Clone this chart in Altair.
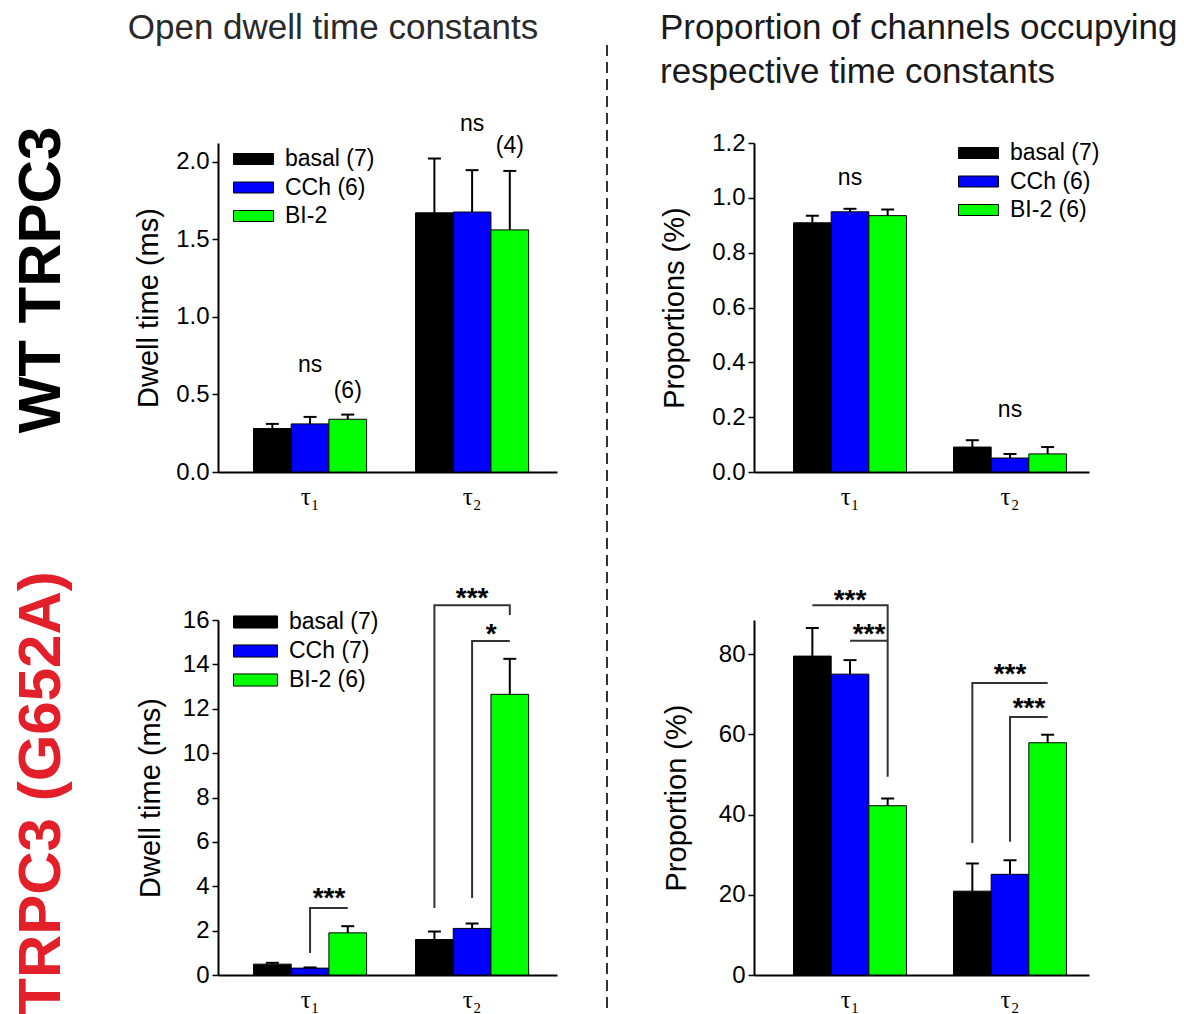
import altair as alt
import pandas as pd

# ---------------- data ----------------
categories = ["τ₁", "τ₂"]
groups = ["basal", "CCh", "BI-2"]
colors = ["#000000", "#0000ff", "#00ff00"]

# values ordered as (τ1: basal, CCh, BI-2), (τ2: basal, CCh, BI-2)
wt_dwell_mean = [0.28, 0.31, 0.34, 1.67, 1.675, 1.56]
wt_dwell_sem = [0.03, 0.045, 0.03, 0.35, 0.27, 0.38]
wt_dwell_legend = ["basal (7)", "CCh (6)", "BI-2"]

wt_prop_mean = [0.909, 0.949, 0.935, 0.091, 0.051, 0.066]
wt_prop_sem = [0.026, 0.011, 0.022, 0.025, 0.015, 0.025]
wt_prop_legend = ["basal (7)", "CCh (6)", "BI-2 (6)"]

mut_dwell_mean = [0.49, 0.31, 1.9, 1.6, 2.1, 12.65]
mut_dwell_sem = [0.06, 0.03, 0.3, 0.36, 0.22, 1.6]
mut_dwell_legend = ["basal (7)", "CCh (7)", "BI-2 (6)"]

mut_prop_mean = [79.5, 75.0, 42.2, 20.9, 25.1, 57.9]
mut_prop_sem = [7.0, 3.5, 1.8, 6.9, 3.5, 2.0]
mut_prop_legend = ["basal (7)", "CCh (7)", "BI-2 (6)"]

# annotations: (category, group, y, text); "mid" ones sit between group and the next group
wt_dwell_notes = [("τ₁", "CCh", 0.69, "ns"), ("τ₁", "BI-2", 0.52, "(6)"),
                  ("τ₂", "CCh", 2.24, "ns"), ("τ₂", "BI-2", 2.10, "(4)")]
wt_prop_notes = [("τ₁", "CCh", 1.072, "ns"), ("τ₂", "CCh", 0.226, "ns")]
mut_dwell_stars = [("τ₂", "CCh", 17.2, "***")]
mut_dwell_mid = [("τ₁", "CCh", 3.7, "***"), ("τ₂", "CCh", 15.6, "*")]
mut_prop_stars = [("τ₁", "CCh", 94.7, "***"), ("τ₂", "CCh", 76.2, "***")]
mut_prop_mid = [("τ₁", "CCh", 86.2, "***"), ("τ₂", "CCh", 67.8, "***")]

# significance brackets: (bracket id, category, [(group, y), ...])
mut_dwell_brackets = [
    ("a", "τ₁", [("CCh", 0.99), ("CCh", 3.02), ("BI-2", 3.02)]),
    ("b", "τ₂", [("basal", 3.02), ("basal", 16.67), ("BI-2", 16.67), ("BI-2", 16.22)]),
    ("c", "τ₂", [("CCh", 3.47), ("CCh", 15.05), ("BI-2", 15.05)]),
]
mut_prop_brackets = [
    ("a", "τ₁", [("basal", 92.2), ("BI-2", 92.2), ("BI-2", 49.4)]),
    ("b", "τ₁", [("CCh", 83.3), ("BI-2", 83.3)]),
    ("c", "τ₂", [("basal", 32.9), ("basal", 72.8), ("BI-2", 72.8)]),
    ("d", "τ₂", [("CCh", 33.2), ("CCh", 64.3), ("BI-2", 64.3)]),
]

col_titles = ["Open dwell time constants", "Proportion of channels occupying\nrespective time constants"]
row_titles = ["WT TRPC3", "TRPC3 (G652A)"]

SANS = "Liberation Sans"
SERIF = "Liberation Serif, DejaVu Serif, serif"
LEFT_W, RIGHT_W = 339, 335
TOP_H, BOT_H = 329, 355
COL_GAP, ROW_GAP = 197, 148


def bar_table(mean, sem, labels):
    rows = []
    k = 0
    for c in categories:
        for g, lab in zip(groups, labels):
            rows.append(dict(cat=c, grp=g, label=lab, mean=mean[k], top=mean[k] + sem[k]))
            k += 1
    return pd.DataFrame(rows)


def note_table(notes):
    return pd.DataFrame([dict(cat=c, grp=g, y=v, t=t) for c, g, v, t in notes])


def bracket_table(brackets):
    rows = []
    for bid, c, pts in brackets:
        for i, (g, v) in enumerate(pts):
            rows.append(dict(bid=bid, cat=c, grp=g, y=v, seq=i))
    return pd.DataFrame(rows)


def panel(mean, sem, labels, width, height, ydom, yticks, yfmt, ytitle, title_x,
          band, legend=None, notes=None, stars=None, mids=None, brackets=None, extras=()):
    pi, po, al = band
    df = bar_table(mean, sem, labels)
    X = alt.X("cat:N", sort=categories,
              scale=alt.Scale(domain=categories, paddingInner=pi, paddingOuter=po, align=al),
              axis=alt.Axis(title=None, labelAngle=0, ticks=False, labelFont=SERIF,
                            labelFontSize=25, labelColor="black", labelPadding=12,
                            domainColor="black", domainWidth=2))
    XO = alt.XOffset("grp:N", sort=groups,
                     scale=alt.Scale(domain=groups, paddingInner=0, paddingOuter=0))

    def Y(field):
        return alt.Y(field, title=ytitle,
                     scale=alt.Scale(domain=ydom, nice=False, zero=True),
                     axis=alt.Axis(values=yticks, format=yfmt, grid=False,
                                   titleFont=SANS, titleFontSize=29, titleFontWeight="normal",
                                   titleColor="black", titleX=title_x, titleY=height / 2,
                                   titleAngle=270, titleAlign="center", titleBaseline="middle",
                                   labelFont=SANS, labelFontSize=24, labelColor="black",
                                   labelPadding=3, tickSize=6, tickColor="black", tickWidth=1.5,
                                   domainColor="black", domainWidth=2))

    if legend is None:
        leg = None
    else:
        lx, ly, sym, rowpad = legend
        leg = alt.Legend(title=None, orient="none", legendX=lx, legendY=ly,
                         symbolType="M-1,-0.275L1,-0.275L1,0.275L-1,0.275Z",
                         symbolSize=sym * sym, symbolStrokeColor="black", symbolStrokeWidth=1,
                         symbolOpacity=1, labelFont=SANS, labelFontSize=23, labelColor="black",
                         labelOffset=11, rowPadding=rowpad, clipHeight=23, padding=0)

    bars = alt.Chart(df).mark_bar(stroke="black", strokeWidth=1, opacity=1).encode(
        x=X, xOffset=XO, y=Y("mean:Q"),
        color=alt.Color("label:N", sort=labels,
                        scale=alt.Scale(domain=labels, range=colors), legend=leg))
    err = alt.Chart(df).mark_rule(color="black", strokeWidth=2).encode(
        x=X, xOffset=XO, y=Y("mean:Q"), y2="top:Q")
    cap = alt.Chart(df).mark_tick(color="black", thickness=2, size=13, opacity=1).encode(
        x=X, xOffset=XO, y=Y("top:Q"))
    layers = [bars, err, cap]
    if brackets:
        layers.append(alt.Chart(bracket_table(brackets)).mark_line(
            color="#333333", strokeWidth=2).encode(
            x=X, xOffset=XO, y=Y("y:Q"), detail="bid:N", order="seq:Q"))
    if notes:
        layers.append(alt.Chart(note_table(notes)).mark_text(
            font=SANS, fontSize=23, color="black", baseline="middle").encode(
            x=X, xOffset=XO, y=Y("y:Q"), text="t:N"))
    star_style = dict(font=SANS, fontSize=28, fontWeight="bold", color="black",
                      baseline="middle", dy=6)
    if stars:
        layers.append(alt.Chart(note_table(stars)).mark_text(**star_style).encode(
            x=X, xOffset=XO, y=Y("y:Q"), text="t:N"))
    if mids:
        layers.append(alt.Chart(note_table(mids)).mark_text(dx=19, **star_style).encode(
            x=X, xOffset=XO, y=Y("y:Q"), text="t:N"))
    layers.extend(extras)
    return alt.layer(*layers).properties(width=width, height=height)


def text_layer(txt, x, y, **kw):
    return alt.Chart(pd.DataFrame({"t": [txt]})).mark_text(**kw).encode(
        x=alt.value(x), y=alt.value(y), text="t:N")


# extra decorations (relative to each panel's plot area)
tl_extras = [
    text_layer(col_titles[0], 115, -104, font=SANS, fontSize=35, color="#2a2a2a",
               align="center", baseline="alphabetic"),
    text_layer(row_titles[0], -176, 137, font=SANS, fontSize=60, fontWeight="bold",
               color="black", angle=270, align="center", baseline="middle"),
    alt.Chart(pd.DataFrame({"a": [0]})).mark_rule(
        color="#333333", strokeWidth=2, strokeDash=[11, 6]).encode(
        x=alt.value(389), y=alt.value(-98), y2=alt.value(880)),
    alt.Chart(pd.DataFrame({"a": [0]})).mark_rule(strokeOpacity=0, strokeWidth=1).encode(
        x=alt.value(-218), x2=alt.value(-216), y=alt.value(-143)),
]
tr_extras = [
    alt.Chart(pd.DataFrame({"t": [col_titles[1]]})).mark_text(
        font=SANS, fontSize=35, color="#1a1a1a", align="left", baseline="alphabetic",
        lineBreak="\n", lineHeight=44).encode(
        x=alt.value(-94), y=alt.value(-104), text="t:N"),
]
bl_extras = [
    text_layer(row_titles[1], -176, 173, font=SANS, fontSize=60, fontWeight="bold",
               color="#e3202a", angle=270, align="center", baseline="middle"),
]

band_left = (0.302, 0.197, 0.556)
band_right = (0.294, 0.194, 0.637)

tl = panel(wt_dwell_mean, wt_dwell_sem, wt_dwell_legend, LEFT_W, TOP_H, [0, 2.12],
           [0, 0.5, 1.0, 1.5, 2.0], ".1f", "Dwell time (ms)", -70, band_left,
           legend=(15, 4.5, 40, 4.5), notes=wt_dwell_notes, extras=tl_extras)
tr = panel(wt_prop_mean, wt_prop_sem, wt_prop_legend, RIGHT_W, TOP_H, [0, 1.2],
           [0, 0.2, 0.4, 0.6, 0.8, 1.0, 1.2], ".1f", "Proportions (%)", -80, band_right,
           legend=(204, -1.5, 40, 4.5), notes=wt_prop_notes, extras=tr_extras)
bl = panel(mut_dwell_mean, mut_dwell_sem, mut_dwell_legend, LEFT_W, BOT_H, [0, 16],
           [0, 2, 4, 6, 8, 10, 12, 14, 16], "d", "Dwell time (ms)", -68, band_left,
           legend=(15, -9.5, 44, 5), stars=mut_dwell_stars, mids=mut_dwell_mid,
           brackets=mut_dwell_brackets, extras=bl_extras)
br = panel(mut_prop_mean, mut_prop_sem, mut_prop_legend, RIGHT_W, BOT_H, [0, 88.5],
           [0, 20, 40, 60, 80], "d", "Proportion (%)", -78, band_right,
           legend=None, stars=mut_prop_stars, mids=mut_prop_mid,
           brackets=mut_prop_brackets)

chart = alt.concat(tl, tr, bl, br, columns=2, spacing={"row": ROW_GAP, "column": COL_GAP},
                   bounds="flush").resolve_scale(
    x="independent", y="independent", color="independent", xOffset="independent"
).resolve_legend(color="independent").properties(
    padding=0, background="white"
).configure_view(stroke=None)

chart.save("out.html", embed_options={"renderer": "svg", "actions": False})
